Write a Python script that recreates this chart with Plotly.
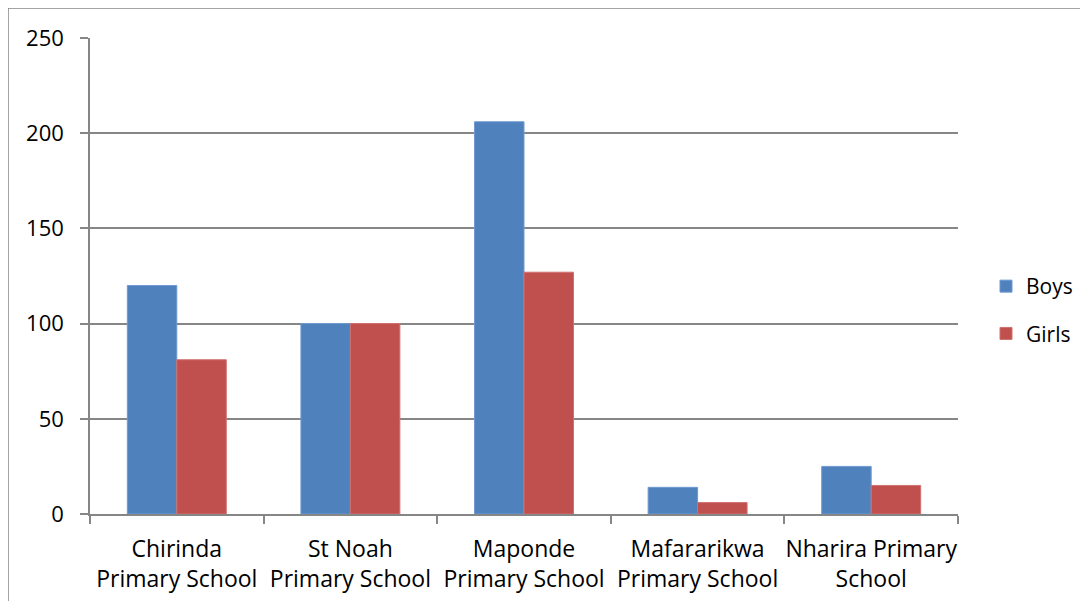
import plotly.graph_objects as go

schools = ["Chirinda<br>Primary School", "St Noah<br>Primary School", "Maponde<br>Primary School",
           "Mafararikwa<br>Primary School", "Nharira Primary<br>School"]
boys = [120, 100, 206, 14, 25]
girls = [81, 100, 127, 6, 15]
y_ticks = [0, 50, 100, 150, 200, 250]

OFF = 8  # page body margin
W, H = 1088 - 2 * OFF, 609 - 2 * OFF
L, T = 90 - OFF, 38 - OFF
pw, ph = 868, 476
R, B = W - L - pw, H - T - ph

fig = go.Figure()
fig.add_trace(go.Bar(x=schools, y=boys, name="Boys", legendgroup="b",
                     marker=dict(color="#4F81BD", line=dict(color="#6F9AD0", width=1))))
fig.add_trace(go.Bar(x=schools, y=girls, name="Girls", legendgroup="g",
                     marker=dict(color="#C0504D", line=dict(color="#D07070", width=1))))

font = "Open Sans, Noto Sans, sans-serif"
FS = 22
fig.update_layout(
    width=W, height=H,
    margin=dict(l=L, r=R, t=T, b=B, pad=0, autoexpand=False),
    paper_bgcolor="white", plot_bgcolor="white",
    barmode="group", bargap=0.43, bargroupgap=0,
    font=dict(family=font, size=FS, color="black"),
    showlegend=True,
    legend=dict(x=(986 - 90) / pw, xanchor="left", y=(514 - 310) / ph, yanchor="middle",
                tracegroupgap=17, font=dict(size=21), bgcolor="rgba(0,0,0,0)",
                itemwidth=30),
    xaxis=dict(showgrid=False, showline=True, linecolor="#868686", linewidth=1.5,
               ticks="outside", tickson="boundaries", ticklen=8, tickcolor="#868686",
               tickwidth=1.5, tickfont=dict(size=23), ticklabelstandoff=14, tickangle=0,
               automargin=False, fixedrange=True),
    yaxis=dict(range=[0, 250], tickvals=y_ticks, showgrid=True, gridcolor="#868686",
               gridwidth=1.5, showline=True, linecolor="#868686", linewidth=1.5,
               ticks="outside", ticklen=8, tickcolor="#868686", tickwidth=1.5,
               ticklabelstandoff=12, tickfont=dict(size=FS), zeroline=False,
               automargin=False, fixedrange=True),
    shapes=[dict(type="line", xref="paper", yref="paper",
                 x0=(8 - 90) / pw, x1=(8 - 90) / pw, y0=(514 - 620) / ph, y1=(514 - 8) / ph,
                 line=dict(color="#868686", width=1.5)),
            dict(type="line", xref="paper", yref="paper",
                 x0=(8 - 90) / pw, x1=(1100 - 90) / pw, y0=(514 - 8) / ph, y1=(514 - 8) / ph,
                 line=dict(color="#868686", width=1.5))],
)
fig.write_html("out.html")
